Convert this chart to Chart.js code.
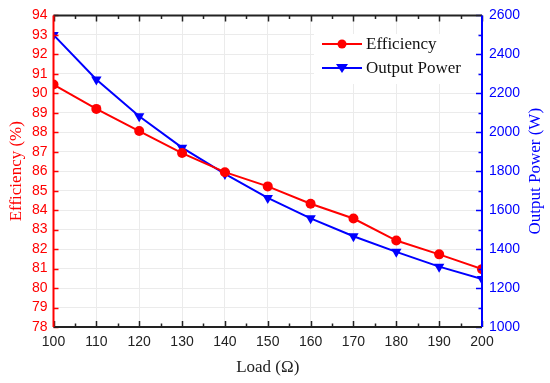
<!DOCTYPE html>
<html>
<head>
<meta charset="utf-8">
<script src="https://cdn.jsdelivr.net/npm/chart.js@4/dist/chart.umd.min.js"></script>
<style>
  html, body { margin: 0; padding: 0; background: #fff; }
  #wrap { width: 550px; height: 383px; }
</style>
</head>
<body>
<div id="wrap"><canvas id="lineChart"></canvas></div>
<script>
const loads = [100, 110, 120, 130, 140, 150, 160, 170, 180, 190, 200];
const efficiency = [90.45, 89.2, 88.06, 86.93, 85.95, 85.22, 84.33, 83.57, 82.44, 81.73, 80.97];
const outputPower = [2500, 2271, 2082, 1921, 1786, 1663, 1558, 1466, 1386, 1310, 1246];
const seriesNames = ['Efficiency', 'Output Power'];
const rightTitle = 'Output Power (W)';

const red = '#ff0000', blue = '#0000ff';
const sansFont = "'Liberation Sans', Arial, sans-serif";
const serifFont = "'Liberation Serif', 'Times New Roman', serif";

function toPoints(ys) {
  return loads.map(function(x, i) { return {x: x, y: ys[i]}; });
}

// frame, inward ticks and the legend box drawn by hand
const framePlugin = {
  id: 'frame',
  afterDraw(chart) {
    const c = chart.ctx, a = chart.chartArea;
    const sx = chart.scales.x, sy = chart.scales.y, sy1 = chart.scales.y1;
    c.save();
    c.lineWidth = 1.5;
    // x ticks top and bottom
    c.strokeStyle = '#222';
    for (let v = 100; v <= 200; v += 5) {
      const px = Math.round(sx.getPixelForValue(v)) + 0.5;
      const len = v % 10 === 0 ? 6 : 3.5;
      c.beginPath();
      c.moveTo(px, a.bottom); c.lineTo(px, a.bottom - len);
      c.moveTo(px, a.top); c.lineTo(px, a.top + len);
      c.stroke();
    }
    // left ticks
    c.strokeStyle = red;
    for (let v = 78; v <= 94; v += 1) {
      const py = Math.round(sy.getPixelForValue(v)) + 0.5;
      c.beginPath(); c.moveTo(a.left, py); c.lineTo(a.left + 5, py); c.stroke();
    }
    // right ticks
    c.strokeStyle = blue;
    for (let v = 1000; v <= 2600; v += 100) {
      const py = Math.round(sy1.getPixelForValue(v)) + 0.5;
      const len = v % 200 === 0 ? 6 : 3.5;
      c.beginPath(); c.moveTo(a.right, py); c.lineTo(a.right - len, py); c.stroke();
    }
    // borders
    c.lineWidth = 2;
    c.strokeStyle = '#222';
    c.beginPath(); c.moveTo(a.left, a.top); c.lineTo(a.right, a.top);
    c.moveTo(a.left, a.bottom); c.lineTo(a.right, a.bottom); c.stroke();
    c.strokeStyle = red;
    c.beginPath(); c.moveTo(a.left, a.top); c.lineTo(a.left, a.bottom); c.stroke();
    c.strokeStyle = blue;
    c.beginPath(); c.moveTo(a.right, a.top); c.lineTo(a.right, a.bottom); c.stroke();
    // right axis title, reading bottom to top
    c.translate(536, (a.top + a.bottom) / 2);
    c.rotate(-Math.PI / 2);
    c.fillStyle = blue;
    c.font = '17px ' + serifFont;
    c.textAlign = 'center';
    c.textBaseline = 'middle';
    c.fillText(rightTitle, 0, 0);
    c.restore();
  },
  beforeDatasetsDraw(chart) {
    // white legend background covering grid lines
    const c = chart.ctx;
    c.save();
    c.fillStyle = '#fff';
    c.fillRect(314, 34, 164, 50);
    c.restore();
  },
  afterDatasetsDraw(chart) {
    const c = chart.ctx;
    c.save();
    chart.data.datasets.forEach(function(ds, i) {
      const y = 44 + i * 24;
      c.strokeStyle = ds.borderColor;
      c.lineWidth = 2;
      c.beginPath(); c.moveTo(322, y); c.lineTo(362, y); c.stroke();
      c.fillStyle = ds.backgroundColor;
      c.beginPath();
      if (ds.pointStyle === 'circle') {
        c.arc(342, y, 4.5, 0, Math.PI * 2);
      } else {
        c.moveTo(336, y - 4); c.lineTo(348, y - 4); c.lineTo(342, y + 5); c.closePath();
      }
      c.fill();
      c.fillStyle = '#111';
      c.font = '17px ' + serifFont;
      c.textBaseline = 'middle';
      c.fillText(ds.label, 366, y + 1);
    });
    c.restore();
  }
};

const ctx = document.getElementById('lineChart').getContext('2d');
const lineChart = new Chart(ctx, {
  type: 'line',
  data: {
    datasets: [
      {
        label: seriesNames[0],
        data: toPoints(efficiency),
        yAxisID: 'y',
        borderColor: red,
        backgroundColor: red,
        borderWidth: 2,
        pointStyle: 'circle',
        pointRadius: 5,
        pointBorderWidth: 0,
        tension: 0
      },
      {
        label: seriesNames[1],
        data: toPoints(outputPower),
        yAxisID: 'y1',
        borderColor: blue,
        backgroundColor: blue,
        borderWidth: 2,
        pointStyle: 'triangle',
        rotation: 180,
        pointRadius: 6,
        pointBorderWidth: 0,
        tension: 0
      }
    ]
  },
  options: {
    responsive: true,
    maintainAspectRatio: false,
    animation: false,
    layout: { autoPadding: false, padding: { top: 8, left: 0, right: 0, bottom: 0 } },
    plugins: {
      legend: { display: false },
      tooltip: { enabled: false }
    },
    scales: {
      x: {
        type: 'linear',
        min: 100, max: 200,
        afterFit(scale) { scale.height = 56; },
        grid: { color: '#ebebeb', drawTicks: false },
        border: { display: false },
        ticks: { stepSize: 10, padding: 7, color: '#222', font: { family: sansFont, size: 14 } },
        title: { display: true, text: 'Load (Ω)', color: '#222', padding: { top: 0, bottom: 5 },
                 font: { family: serifFont, size: 17 } }
      },
      y: {
        position: 'left',
        min: 78, max: 94,
        afterFit(scale) { scale.width = 53.5; },
        grid: { color: '#ebebeb', drawTicks: false },
        border: { display: false },
        ticks: { stepSize: 1, autoSkip: false, padding: 6, color: red, font: { family: sansFont, size: 14 } },
        title: { display: true, text: 'Efficiency (%)', color: red, padding: { top: 6, bottom: 0 },
                 font: { family: serifFont, size: 17 } }
      },
      y1: {
        position: 'right',
        min: 1000, max: 2600,
        afterFit(scale) { scale.width = 68; },
        grid: { display: false, drawTicks: false },
        border: { display: false },
        ticks: { stepSize: 200, autoSkip: false, padding: 7, color: blue, font: { family: sansFont, size: 14 },
                 callback: function(v) { return String(v); } },
        title: { display: false }
      }
    }
  },
  plugins: [framePlugin]
});
</script>
</body>
</html>
